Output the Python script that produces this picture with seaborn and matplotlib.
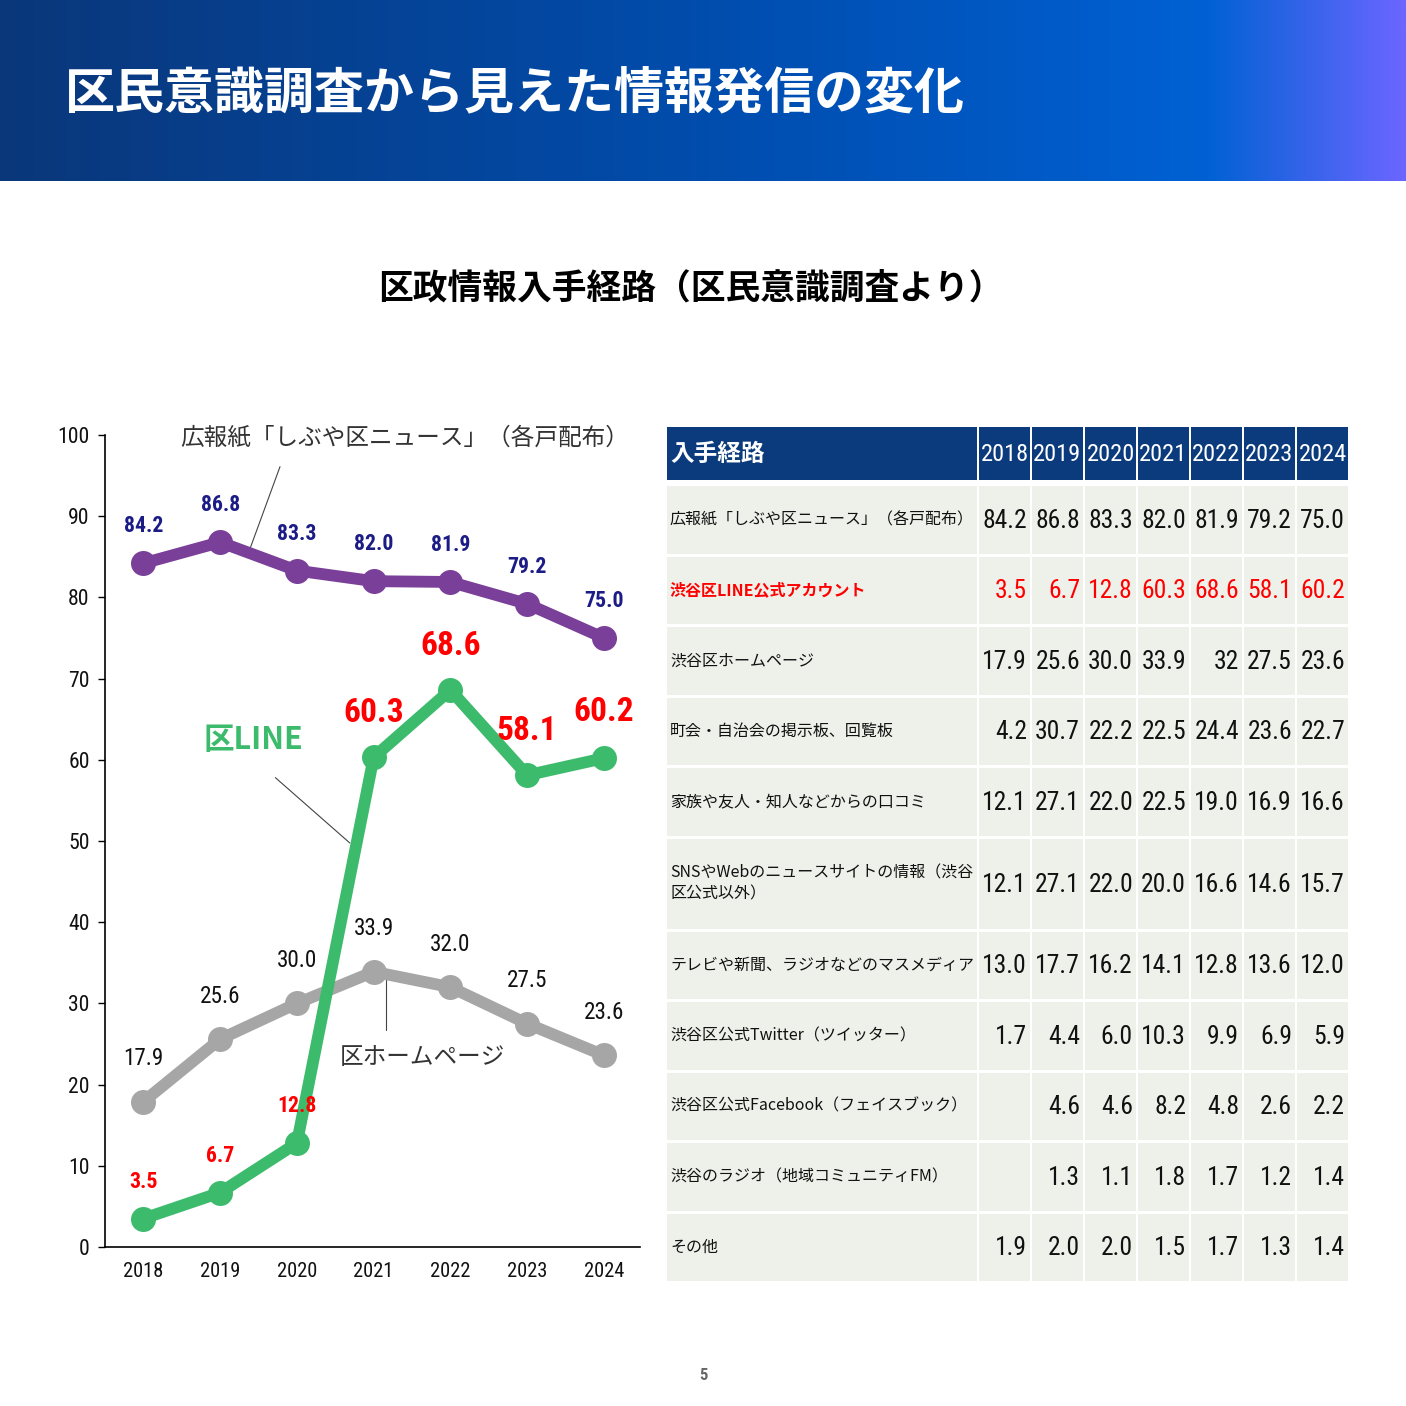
import os
import numpy as np
import pandas as pd
import matplotlib
matplotlib.use("Agg")
import matplotlib.pyplot as plt
from matplotlib import font_manager as fm
from matplotlib.textpath import TextToPath
from matplotlib.patches import Rectangle
from matplotlib.colors import LinearSegmentedColormap
import seaborn as sns

# ---------------- data ----------------
years = [2018, 2019, 2020, 2021, 2022, 2023, 2024]
year_labels = ["2018", "2019", "2020", "2021", "2022", "2023", "2024"]
koho_news = [84.2, 86.8, 83.3, 82.0, 81.9, 79.2, 75.0]
ku_line = [3.5, 6.7, 12.8, 60.3, 68.6, 58.1, 60.2]
ku_homepage = [17.9, 25.6, 30.0, 33.9, 32.0, 27.5, 23.6]

series_names = ["広報紙「しぶや区ニュース」（各戸配布）", "区LINE", "区ホームページ"]

title = "区民意識調査から見えた情報発信の変化"
subtitle = "区政情報入手経路（区民意識調査より）"
page_no = "5"

table_header = "入手経路"
row_labels = [
    "広報紙「しぶや区ニュース」（各戸配布）",
    "渋谷区LINE公式アカウント",
    "渋谷区ホームページ",
    "町会・自治会の掲示板、回覧板",
    "家族や友人・知人などからの口コミ",
    "SNSやWebのニュースサイトの情報（渋谷\n区公式以外）",
    "テレビや新聞、ラジオなどのマスメディア",
    "渋谷区公式Twitter（ツイッター）",
    "渋谷区公式Facebook（フェイスブック）",
    "渋谷のラジオ（地域コミュニティFM）",
    "その他",
]
row_values = [
    ["84.2", "86.8", "83.3", "82.0", "81.9", "79.2", "75.0"],
    ["3.5", "6.7", "12.8", "60.3", "68.6", "58.1", "60.2"],
    ["17.9", "25.6", "30.0", "33.9", "32", "27.5", "23.6"],
    ["4.2", "30.7", "22.2", "22.5", "24.4", "23.6", "22.7"],
    ["12.1", "27.1", "22.0", "22.5", "19.0", "16.9", "16.6"],
    ["12.1", "27.1", "22.0", "20.0", "16.6", "14.6", "15.7"],
    ["13.0", "17.7", "16.2", "14.1", "12.8", "13.6", "12.0"],
    ["1.7", "4.4", "6.0", "10.3", "9.9", "6.9", "5.9"],
    ["", "4.6", "4.6", "8.2", "4.8", "2.6", "2.2"],
    ["", "1.3", "1.1", "1.8", "1.7", "1.2", "1.4"],
    ["1.9", "2.0", "2.0", "1.5", "1.7", "1.3", "1.4"],
]

# ---------------- fonts ----------------
CJK = "Noto Sans CJK JP"


def find_condensed():
    cands = [("Liberation Sans Narrow", "normal"), ("Roboto Condensed", "normal"),
             ("Noto Sans", "extra-condensed"), ("Noto Sans", "condensed"),
             ("Noto Sans Condensed", "normal"), ("Open Sans", "condensed"),
             ("Open Sans Condensed", "normal")]
    for fam, st in cands:
        try:
            p = fm.findfont(fm.FontProperties(family=fam, stretch=st),
                            fallback_to_default=False)
        except Exception:
            continue
        if st == "normal" or "ondensed" in os.path.basename(p):
            return fam, st
    return "Liberation Sans", "normal"


NARROW, ST = find_condensed()
try:
    _w, _h, _d = TextToPath().get_text_width_height_descent(
        "2018", fm.FontProperties(family=[NARROW], stretch=ST, size=10), ismath=False)
    NS = min(1.0, 0.456 / (_w / 40.0))
except Exception:
    NS = 0.82
NUMKW = dict(family=[NARROW, CJK], fontstretch=ST)

sns.set_theme(style="white")
plt.rcParams["font.family"] = [CJK, "DejaVu Sans"]

fig = plt.figure(figsize=(14.06, 14.06), dpi=100)
fig.patch.set_facecolor("white")

# pixel overlay axes for header / table
pax = fig.add_axes([0, 0, 1, 1])
pax.set_zorder(0)

# header gradient
cmap = LinearSegmentedColormap.from_list(
    "hdr", [(0.0, "#0a377a"), (0.55, "#004fb2"), (0.86, "#0061d4"), (1.0, "#6a66ff")])
grad = np.linspace(0, 1, 512).reshape(1, -1)
pax.imshow(grad, extent=(0, 1406, 181, 0), aspect="auto", cmap=cmap, zorder=0)
pax.text(65, 95, title, color="white", fontsize=36, fontweight="bold",
         ha="left", va="center")

pax.text(691, 288, subtitle, color="black", fontsize=25, fontweight="bold",
         ha="center", va="center")
pax.text(703, 1375, page_no, color="#666666", fontsize=12, fontweight="bold",
         ha="center", va="center", **NUMKW)

# ---------------- table ----------------
tx0, label_w, col_w = 667, 312, 53
hdr_top, hdr_h = 427, 53
navy = "#0b3b7c"
cell_bg = "#eef0ea"
pax.add_patch(Rectangle((tx0, hdr_top), label_w - 2, hdr_h, color=navy, lw=0))
pax.text(tx0 + 3, hdr_top + hdr_h / 2, table_header, color="white",
         fontsize=17, fontweight="bold", ha="left", va="center")
for j, yl in enumerate(year_labels):
    x = tx0 + label_w + j * col_w
    pax.add_patch(Rectangle((x, hdr_top), col_w - 2, hdr_h, color=navy, lw=0))
    pax.text(x + (col_w - 2) / 2, hdr_top + hdr_h / 2 + 1, yl, color="white",
             fontsize=19 * NS, ha="center", va="center", **NUMKW)

row_heights = [70.5] * 5 + [93] + [70.5] * 5
y0 = 486
for r, (lab, vals) in enumerate(zip(row_labels, row_values)):
    h = row_heights[r]
    is_line = (r == 1)
    col = "#ff0000" if is_line else "#111111"
    pax.add_patch(Rectangle((tx0, y0), label_w - 2, h - 3, color=cell_bg, lw=0))
    yc = y0 + (h - 3) / 2
    pax.text(tx0 + 3, yc, lab, color=col, fontsize=11.5,
             fontweight="bold" if is_line else "normal",
             ha="left", va="center", linespacing=1.35)
    for j, v in enumerate(vals):
        x = tx0 + label_w + j * col_w
        pax.add_patch(Rectangle((x, y0), col_w - 2, h - 3, color=cell_bg, lw=0))
        if v:
            pax.text(x + col_w - 5, yc + 1, v, color=col, fontsize=20 * NS,
                     ha="right", va="center", **NUMKW)
    y0 += h

pax.set_xlim(0, 1406)
pax.set_ylim(1406, 0)
pax.axis("off")

# ---------------- line chart ----------------
ax = fig.add_axes([105 / 1406, 1 - 1247 / 1406, (640 - 105) / 1406, (1247 - 435) / 1406])
ax.set_zorder(2)
ax.patch.set_alpha(0)

purple, green, gray = "#7a3f98", "#3dbb6c", "#a6a6a6"
df = pd.DataFrame({
    "year": years * 3,
    "value": koho_news + ku_line + ku_homepage,
    "series": [series_names[0]] * 7 + [series_names[1]] * 7 + [series_names[2]] * 7,
})
sns.lineplot(data=df, x="year", y="value", hue="series",
             hue_order=[series_names[2], series_names[0], series_names[1]],
             palette={series_names[0]: purple, series_names[1]: green, series_names[2]: gray},
             marker="o", markersize=18, markeredgewidth=0, linewidth=8.5,
             solid_joinstyle="round", solid_capstyle="round",
             legend=False, ax=ax, sort=False)

ax.set_xlim(2017.5, 2024.47)
ax.set_ylim(0, 100)
ax.set_xticks(years)
ax.set_xticklabels(year_labels, fontsize=16 * NS, color="#111111", **NUMKW)
ax.set_yticks(range(0, 101, 10))
ax.set_yticklabels([str(v) for v in range(0, 101, 10)], fontsize=17 * NS,
                   color="#111111", **NUMKW)
ax.tick_params(axis="x", length=0, pad=11)
ax.tick_params(axis="y", length=5, width=1, color="black", direction="out", pad=6, left=True)
ax.set_xlabel("")
ax.set_ylabel("")
for s in ["top", "right"]:
    ax.spines[s].set_visible(False)
for s in ["left", "bottom"]:
    ax.spines[s].set_color("black")
    ax.spines[s].set_linewidth(1.2)

# data labels
for yr, v in zip(years, koho_news):
    ax.annotate(f"{v:.1f}", (yr, v), xytext=(0, 26.5), textcoords="offset points",
                ha="center", va="center", color="#1c1c86", fontsize=17 * NS,
                fontweight="bold", **NUMKW)
line_label_sizes = [17, 17, 17, 26, 26, 26, 26]
line_label_offsets = [26, 26, 27, 32, 32, 32, 33]
for yr, v, fs, off in zip(years, ku_line, line_label_sizes, line_label_offsets):
    ax.annotate(f"{v:.1f}", (yr, v), xytext=(0, off), textcoords="offset points",
                ha="center", va="center", color="#ff0000", fontsize=fs * NS,
                fontweight="bold", **NUMKW)
for yr, v in zip(years, ku_homepage):
    ax.annotate(f"{v:.1f}", (yr, v), xytext=(0, 31), textcoords="offset points",
                ha="center", va="center", color="#111111", fontsize=18 * NS,
                **NUMKW)

# series name callouts with leader lines
lead = dict(color="#444444", lw=0.8, clip_on=False, zorder=1)
ax.plot([2019.37, 2019.78], [85.5, 96.1], **lead)
ax.text(2021.41, 99.6, series_names[0], ha="center", va="center",
        fontsize=17, color="#333333")
ax.plot([2019.72, 2020.69], [57.8, 49.75], **lead)
ax.text(2019.43, 62.4, series_names[1], ha="center", va="center",
        fontsize=22, color=green, fontweight="bold")
ax.plot([2021.16, 2021.16], [33.4, 26.7], **lead)
ax.text(2021.64, 23.3, series_names[2], ha="center", va="center",
        fontsize=17, color="#333333")

fig.savefig("out.png", dpi=100, facecolor="white")
